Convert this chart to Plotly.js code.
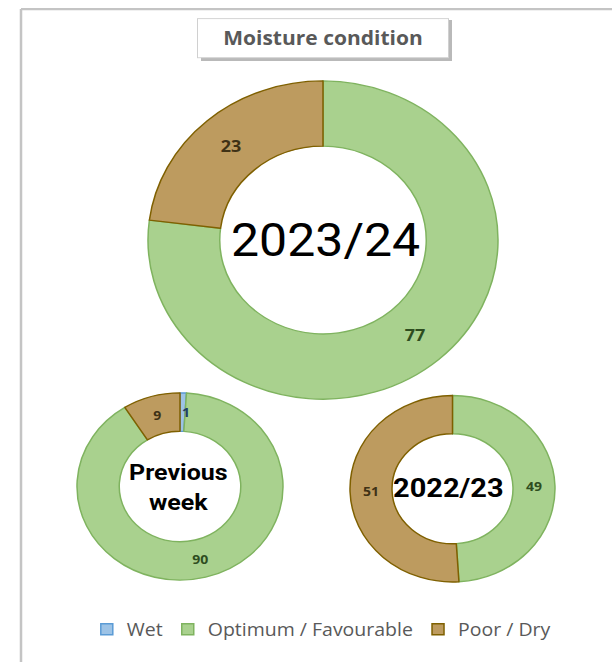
<!DOCTYPE html>
<html>
<head>
<meta charset="utf-8">
<script src="https://cdn.plot.ly/plotly-3.0.1.min.js"></script>
<style>
  html, body { margin: 0; padding: 0; background: #ffffff; overflow: hidden; }
  #wrap { width: 612px; height: 662px; overflow: hidden; }
  #chart { width: 612px; height: 728px; transform: scaleY(0.9093); transform-origin: 0 0; }
</style>
</head>
<body>
<div id="wrap"><div id="chart"></div></div>
<script>
// ---- data ----
var categories = ["Wet", "Optimum / Favourable", "Poor / Dry"];
var season2023 = [0, 77, 23];
var previousWeek = [1, 90, 9];
var season2022 = [0, 49, 51];
var chartTitle = "Moisture condition";
var centerLabels = ["2023/24", "Previous<br>week", "2022/23"];

// ---- styles ----
var fillColors = ["#9dc3e6", "#a9d18e", "#bd9b5f"];
var lineColors = ["#5b9bd5", "#7fb35f", "#7f6000"];
var textColors = ["#1f3f66", "#2e4d1f", "#3f3216"];
var HOLE = 0.59;
var SMALL = 3; // slices below this share get their label as an annotation

function labelText(vals) {
  var tot = vals.reduce(function (a, b) { return a + b; }, 0);
  return vals.map(function (v) { return (v > 0 && v / tot * 100 >= SMALL) ? String(v) : ""; });
}

var H = 728, W = 612;
function px(x) { return x / W; }
function py(yTop) { return 1 - yTop / H; }

function donut(vals, name, box, fsize) {
  return {
    type: "pie",
    name: name,
    labels: categories,
    values: vals,
    text: labelText(vals),
    textinfo: "text",
    textposition: "inside",
    insidetextorientation: "horizontal",
    insidetextfont: { family: "Open Sans", size: fsize, color: textColors, weight: 700 },
    hole: HOLE,
    sort: false,
    direction: "clockwise",
    rotation: 0,
    marker: { colors: fillColors, line: { color: lineColors, width: 1.5 } },
    domain: { x: [px(box.l), px(box.r)], y: [py(box.b), py(box.t)] },
    hoverinfo: "label+value"
  };
}

var boxes = [
  { l: 148, r: 498, t: 89, b: 439, fs: 18 },
  { l: 77, r: 283, t: 432, b: 638, fs: 14 },
  { l: 350, r: 555, t: 435, b: 640, fs: 14 }
];
var seriesList = [season2023, previousWeek, season2022];
var names = ["2023/24", "Previous week", "2022/23"];

var traces = seriesList.map(function (s, i) { return donut(s, names[i], boxes[i], boxes[i].fs); });

// labels for tiny slices, placed at the slice's mid-angle on the ring
var smallLabels = [];
seriesList.forEach(function (vals, i) {
  var b = boxes[i];
  var tot = vals.reduce(function (a, c) { return a + c; }, 0);
  var cx = (b.l + b.r) / 2, cy = (b.t + b.b) / 2, R = (b.r - b.l) / 2;
  var rMid = R * (1 + HOLE) / 2;
  var cum = 0;
  vals.forEach(function (v, k) {
    var frac = v / tot;
    if (v > 0 && frac * 100 < SMALL) {
      var ang = (cum + frac / 2) * 2 * Math.PI;
      smallLabels.push({
        text: String(v), xref: "paper", yref: "paper",
        x: px(cx + rMid * Math.sin(ang) + 3), y: py(cy - rMid * Math.cos(ang)),
        xanchor: "center", yanchor: "middle", showarrow: false,
        font: { family: "Open Sans", size: b.fs, color: textColors[k], weight: 700 }
      });
    }
    cum += frac;
  });
});

var layout = {
  width: W,
  height: H,
  margin: { l: 0, r: 0, t: 0, b: 0 },
  paper_bgcolor: "#ffffff",
  showlegend: true,
  legend: {
    orientation: "h",
    x: 0.525, xanchor: "center",
    y: 0.049, yanchor: "middle",
    font: { family: "Open Sans", size: 19.5, color: "#595959" },
    bgcolor: "rgba(0,0,0,0)"
  },
  shapes: [
    { type: "line", xref: "paper", yref: "paper", x0: px(21), x1: 1, y0: py(10), y1: py(10),
      line: { color: "#c4c4c4", width: 2.5 } },
    { type: "line", xref: "paper", yref: "paper", x0: px(21), x1: px(21), y0: 0, y1: py(10),
      line: { color: "#c4c4c4", width: 2.5 } },
    { type: "rect", xref: "paper", yref: "paper", x0: px(201), x1: px(452), y0: py(67), y1: py(22),
      fillcolor: "#8a8a8a", opacity: 0.6, line: { width: 0 } }
  ],
  annotations: [
    { text: chartTitle, xref: "paper", yref: "paper", x: px(323), y: py(41.5),
      xanchor: "center", yanchor: "middle", showarrow: false,
      font: { family: "Open Sans", size: 21, color: "#595959", weight: 700 },
      bgcolor: "#ffffff", bordercolor: "#d0d0d0", borderwidth: 1, borderpad: 2,
      width: 246, height: 38 },
    { text: centerLabels[0], xref: "paper", yref: "paper", x: px(325), y: py(265),
      xanchor: "center", yanchor: "middle", showarrow: false,
      font: { family: "Roboto", size: 50, color: "#000000", weight: 400 } },
    { text: centerLabels[1], xref: "paper", yref: "paper", x: px(178), y: py(536),
      xanchor: "center", yanchor: "middle", showarrow: false,
      font: { family: "Roboto", size: 25, color: "#000000", weight: 700 } },
    { text: centerLabels[2], xref: "paper", yref: "paper", x: px(449), y: py(537),
      xanchor: "center", yanchor: "middle", showarrow: false,
      font: { family: "Roboto", size: 29, color: "#000000", weight: 700 } }
  ].concat(smallLabels)
};

Plotly.newPlot("chart", traces, layout, { displayModeBar: false, staticPlot: true });
</script>
</body>
</html>
